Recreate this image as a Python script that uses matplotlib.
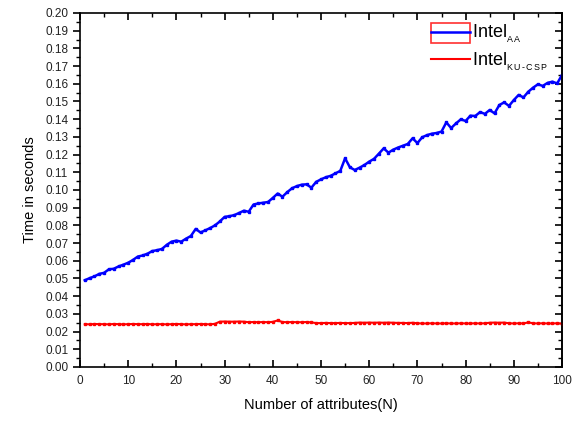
import numpy as np
import matplotlib
matplotlib.use("Agg")
import matplotlib.pyplot as plt
from matplotlib.patches import Rectangle
from matplotlib.ticker import MultipleLocator

plt.rcParams['font.family'] = ['Liberation Sans', 'DejaVu Sans']
plt.rcParams['mathtext.fontset'] = 'custom'
plt.rcParams['mathtext.rm'] = 'Liberation Sans'

# number of attributes
n_attr = np.arange(1, 101)

# Intel_AA timings (seconds)
intel_aa = [
    0.0490, 0.0502, 0.0512, 0.0526, 0.0532, 0.0552, 0.0555, 0.0568, 0.0578, 0.0589,
    0.0605, 0.0624, 0.0630, 0.0640, 0.0655, 0.0660, 0.0667, 0.0690, 0.0708, 0.0714,
    0.0708, 0.0725, 0.0740, 0.0780, 0.0760, 0.0772, 0.0785, 0.0800, 0.0822, 0.0848,
    0.0852, 0.0858, 0.0870, 0.0883, 0.0877, 0.0918, 0.0924, 0.0928, 0.0932, 0.0955,
    0.0980, 0.0962, 0.0988, 0.1010, 0.1022, 0.1030, 0.1032, 0.1013, 0.1046, 0.1060,
    0.1072, 0.1080, 0.1094, 0.1108, 0.1179, 0.1128, 0.1113, 0.1126, 0.1141, 0.1160,
    0.1176, 0.1205, 0.1235, 0.1211, 0.1228, 0.1240, 0.1250, 0.1260, 0.1292, 0.1265,
    0.1298, 0.1310, 0.1318, 0.1322, 0.1330, 0.1382, 0.1350, 0.1376, 0.1399, 0.1390,
    0.1420, 0.1418, 0.1440, 0.1430, 0.1452, 0.1433, 0.1480, 0.1495, 0.1475, 0.1508,
    0.1537, 0.1523, 0.1555, 0.1578, 0.1597, 0.1588, 0.1605, 0.1612, 0.1602, 0.1650,
]

# Intel_KU-CSP timings (seconds)
intel_ku_csp = [
    0.0242, 0.0241, 0.0243, 0.0242, 0.0242, 0.0241, 0.0243, 0.0242, 0.0241, 0.0242,
    0.0243, 0.0242, 0.0242, 0.0243, 0.0241, 0.0242, 0.0242, 0.0241, 0.0242, 0.0243,
    0.0242, 0.0241, 0.0242, 0.0242, 0.0243, 0.0242, 0.0241, 0.0244, 0.0256, 0.0257,
    0.0256, 0.0256, 0.0257, 0.0256, 0.0253, 0.0254, 0.0253, 0.0254, 0.0253, 0.0255,
    0.0263, 0.0254, 0.0253, 0.0254, 0.0253, 0.0253, 0.0254, 0.0252, 0.0248, 0.0248,
    0.0249, 0.0248, 0.0248, 0.0249, 0.0248, 0.0248, 0.0249, 0.0251, 0.0250, 0.0251,
    0.0250, 0.0251, 0.0250, 0.0251, 0.0250, 0.0249, 0.0249, 0.0248, 0.0250, 0.0247,
    0.0246, 0.0246, 0.0247, 0.0246, 0.0246, 0.0247, 0.0246, 0.0246, 0.0247, 0.0246,
    0.0246, 0.0247, 0.0246, 0.0247, 0.0250, 0.0251, 0.0250, 0.0251, 0.0247, 0.0246,
    0.0247, 0.0246, 0.0252, 0.0247, 0.0246, 0.0247, 0.0246, 0.0246, 0.0247, 0.0245,
]

labels = [r'Intel$_{{}_{\mathrm{A\,A}}}$',
          r'Intel$_{{}_{\mathrm{K\,U\,\text{-}\,C\,S\,P}}}$']

fig = plt.figure(figsize=(5.81, 4.23), dpi=100)
ax = fig.add_axes([0.1377, 0.1324, 0.8296, 0.8369])

ax.plot(n_attr, intel_aa, color='#0000ff', lw=1.8, marker='s', ms=2, label=labels[0])
ax.plot(n_attr, intel_ku_csp, color='#ff0000', lw=1.5, marker='s', ms=1.5, label=labels[1])

ax.set_xlim(0, 100)
ax.set_ylim(0, 0.20)
ax.xaxis.set_major_locator(MultipleLocator(10))
ax.xaxis.set_minor_locator(MultipleLocator(5))
ax.yaxis.set_major_locator(MultipleLocator(0.01))
ax.yaxis.set_minor_locator(MultipleLocator(0.005))
ax.yaxis.set_major_formatter(matplotlib.ticker.FormatStrFormatter('%.2f'))

ax.tick_params(axis='x', which='both', direction='in', top=True, labelsize=8.5,
               labelcolor='#222222', pad=6)
ax.tick_params(axis='y', which='both', direction='out', labelsize=8.5,
               labelcolor='#222222')
ax.tick_params(which='major', length=5, width=1.2)
ax.tick_params(which='minor', length=3, width=1)
# right axis ticks point inward
ax_r = ax.secondary_yaxis('right')
ax_r.yaxis.set_major_locator(MultipleLocator(0.01))
ax_r.yaxis.set_minor_locator(MultipleLocator(0.005))
ax_r.tick_params(which='both', direction='in', labelright=False)
ax_r.tick_params(which='major', length=5, width=1.2)
ax_r.tick_params(which='minor', length=3, width=1)
ax_r.spines['right'].set_linewidth(1.2)
for s in ax.spines.values():
    s.set_linewidth(1.2)

ax.set_xlabel('Number of attributes(N)', fontsize=10.5, labelpad=8)
ax.set_ylabel('Time in seconds', fontsize=10.5, labelpad=6)

leg = ax.legend(loc='upper left', bbox_to_anchor=(0.728, 0.972), frameon=False,
                fontsize=13, handlelength=2.15, handletextpad=0.15,
                labelspacing=0.3, borderaxespad=0, borderpad=0)
for h in leg.legend_handles:
    h.set_marker('')

# selection box drawn around the first legend entry
ax.add_patch(Rectangle((0.728, 0.916), 0.081, 0.055, transform=ax.transAxes,
                       fill=False, edgecolor='#ff3030', lw=1.2, clip_on=False))

fig.savefig('out.png', dpi=100)
